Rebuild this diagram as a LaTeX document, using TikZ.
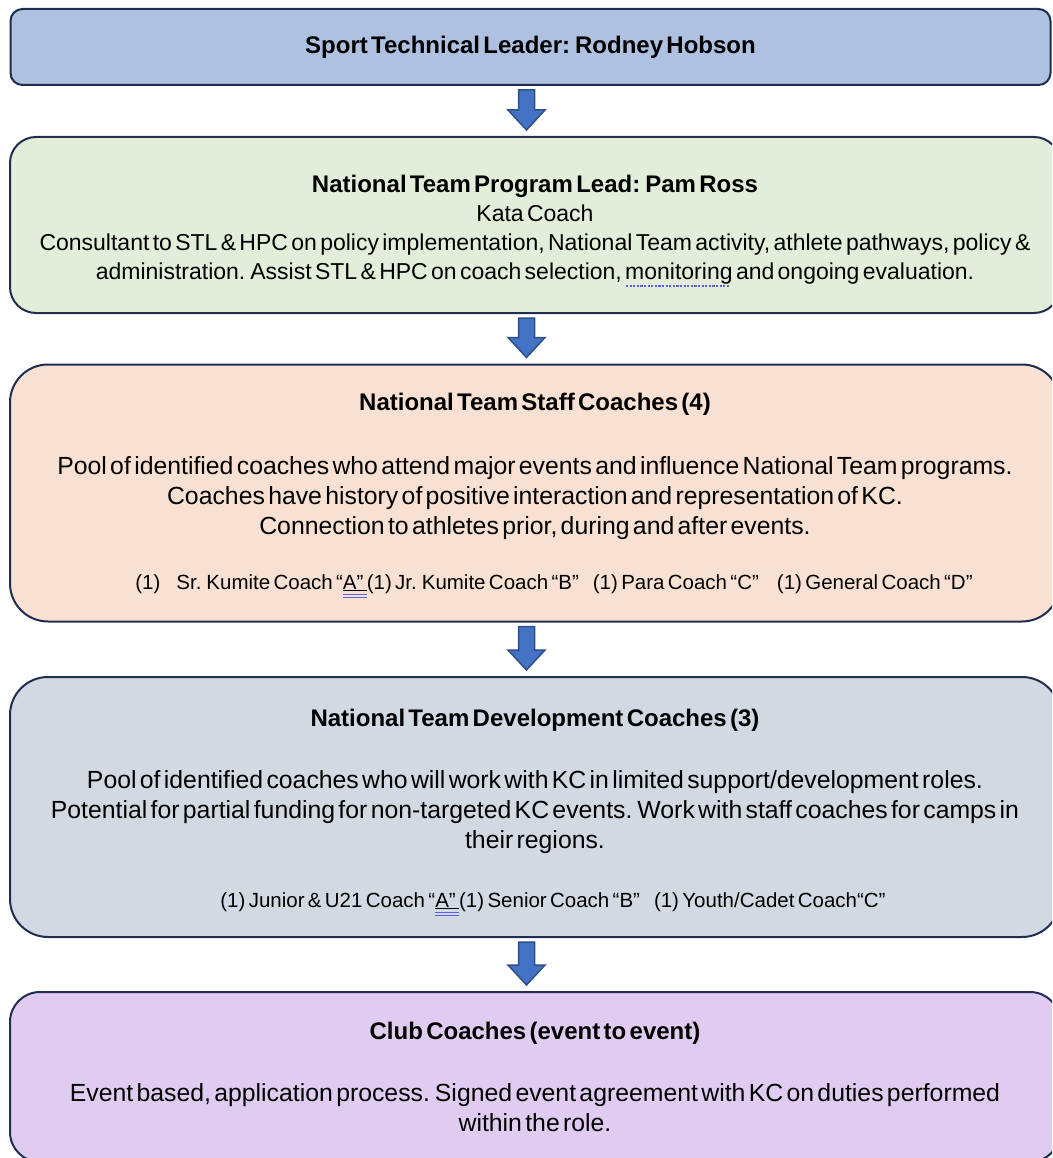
\documentclass[tikz,border=0pt]{standalone}
\usepackage{fontspec}
\setmainfont{Liberation Sans}
\usetikzlibrary{calc}

\definecolor{boxline}{HTML}{1F2D4E}
\definecolor{fill_stl}{HTML}{AEC1E1}
\definecolor{fill_npl}{HTML}{E2EED9}
\definecolor{fill_staff}{HTML}{F8E1D2}
\definecolor{fill_dev}{HTML}{D2D9E3}
\definecolor{fill_club}{HTML}{E0CCF0}
\definecolor{arrowblue}{HTML}{4472C4}
\definecolor{arrowline}{HTML}{2F4F8A}
\definecolor{markblue}{HTML}{5B5FEA}

\newcommand{\titlefont}{\fontsize{24}{30}\selectfont\bfseries}
\newcommand{\bodyfont}{\fontsize{24.8}{30}\selectfont}
\newcommand{\nplfont}{\fontsize{23}{29}\selectfont}
\newcommand{\listfont}{\fontsize{20.5}{24}\selectfont}
% proofing marks as they show in the picture
\newcommand{\dotmark}[1]{\setbox0=\hbox{#1}\rlap{#1}\rlap{\raisebox{-7pt}{\color{markblue}\leaders\hbox to 3.6pt{\hss\rule{2.2pt}{1.8pt}\hss}\hskip\wd0\relax}}\hskip\wd0\relax}
\newcommand{\dblmark}[1]{\setbox0=\hbox{#1}\rlap{\underline{#1}}\rlap{\raisebox{-6pt}{\color{markblue}\rule{\wd0}{1pt}}}\rlap{\raisebox{-8.5pt}{\color{markblue}\rule{\wd0}{1pt}}}\hskip\wd0\relax}

\tikzset{
  orgbox/.style = {rectangle, draw=boxline, line width=2pt, align=center,
    inner sep=0pt, text width=1040pt, minimum width=1050pt},
  box_stl/.style = {orgbox, fill=fill_stl, rounded corners=12pt, minimum width=1037pt, minimum height=76pt},% top
  box_npl/.style = {orgbox, fill=fill_npl, rounded corners=26pt, minimum height=176pt},
  box_staff/.style = {orgbox, fill=fill_staff, rounded corners=38pt, minimum height=257pt},
  box_dev/.style = {orgbox, fill=fill_dev, rounded corners=38pt, minimum height=260pt},
  box_club/.style = {orgbox, fill=fill_club, rounded corners=30pt, minimum height=170pt},
  downarrow/.style = {fill=arrowblue, draw=arrowline, line width=1.5pt, line join=miter}
}

\begin{document}
\begin{tikzpicture}[x=1pt, y=-1pt]
\useasboundingbox (0,0) rectangle (1052,1158);
\clip (0,0) rectangle (1052,1158);
\coordinate (mid) at (526.5,0);

\node [box_stl] (stl) at (530.5,47) {\titlefont Sport Technical Leader: Rodney Hobson};

\node [box_npl] (npl) at (535,225) {{\nplfont
    {\bfseries\fontsize{24}{29}\selectfont\rule{0pt}{30pt}National Team Program Lead: Pam Ross}\\
    Kata Coach\\
    Consultant to STL \& HPC on policy implementation, National Team activity, athlete pathways, policy \&\\
    administration. Assist STL \& HPC on coach selection, \dotmark{monitoring} and ongoing evaluation.\par}};

\node [box_staff] (staff) at (535,493) {%
    {\titlefont\rule{0pt}{22pt}National Team Staff Coaches (4)\par}
    \vspace{34pt}
    {\bodyfont Pool of identified coaches who attend major events and influence National Team programs.\\
    Coaches have history of positive interaction and representation of KC.\\
    Connection to athletes prior, during and after events.\par}
    \vspace{31pt}
    {\listfont\hspace*{38pt}(1)\hspace{16pt}Sr. Kumite Coach “\dblmark{A”\ }(1) Jr. Kumite Coach “B”\hspace{14pt}(1) Para Coach “C”\hspace{18pt}(1) General Coach “D”\par}};

\node [box_dev] (dev) at (535,807) {%
    {\titlefont\rule{0pt}{28pt}National Team Development Coaches (3)\par}
    \vspace{32pt}
    {\bodyfont Pool of identified coaches who will work with KC in limited support/development roles.\\
    Potential for partial funding for non-targeted KC events. Work with staff coaches for camps in\\
    their regions.\par}
    \vspace{35pt}
    {\listfont\hspace*{36pt}(1) Junior \& U21 Coach “\dblmark{A”\ }(1) Senior Coach “B”\hspace{14pt}(1) Youth/Cadet Coach“C”\par}};

\node [box_club] (club) at (535,1077) {%
    {\titlefont Club Coaches (event to event)\par}
    \vspace{32pt}
    {\bodyfont Event based, application process. Signed event agreement with KC on duties performed\\
    within the role.\par}};

% block arrows between the levels
\foreach \a/\b in {stl/npl, npl/staff, staff/dev, dev/club}
  \draw [downarrow] ($(mid|-\a.south)+(-8,4)$) -- ($(mid|-\a.south)+(8,4)$)
    -- ($(mid|-\b.north)+(8,-26)$) -- ($(mid|-\b.north)+(18.5,-26)$)
    -- ($(mid|-\b.north)+(0,-6)$) -- ($(mid|-\b.north)+(-18.5,-26)$)
    -- ($(mid|-\b.north)+(-8,-26)$) -- cycle;
\end{tikzpicture}
\end{document}
